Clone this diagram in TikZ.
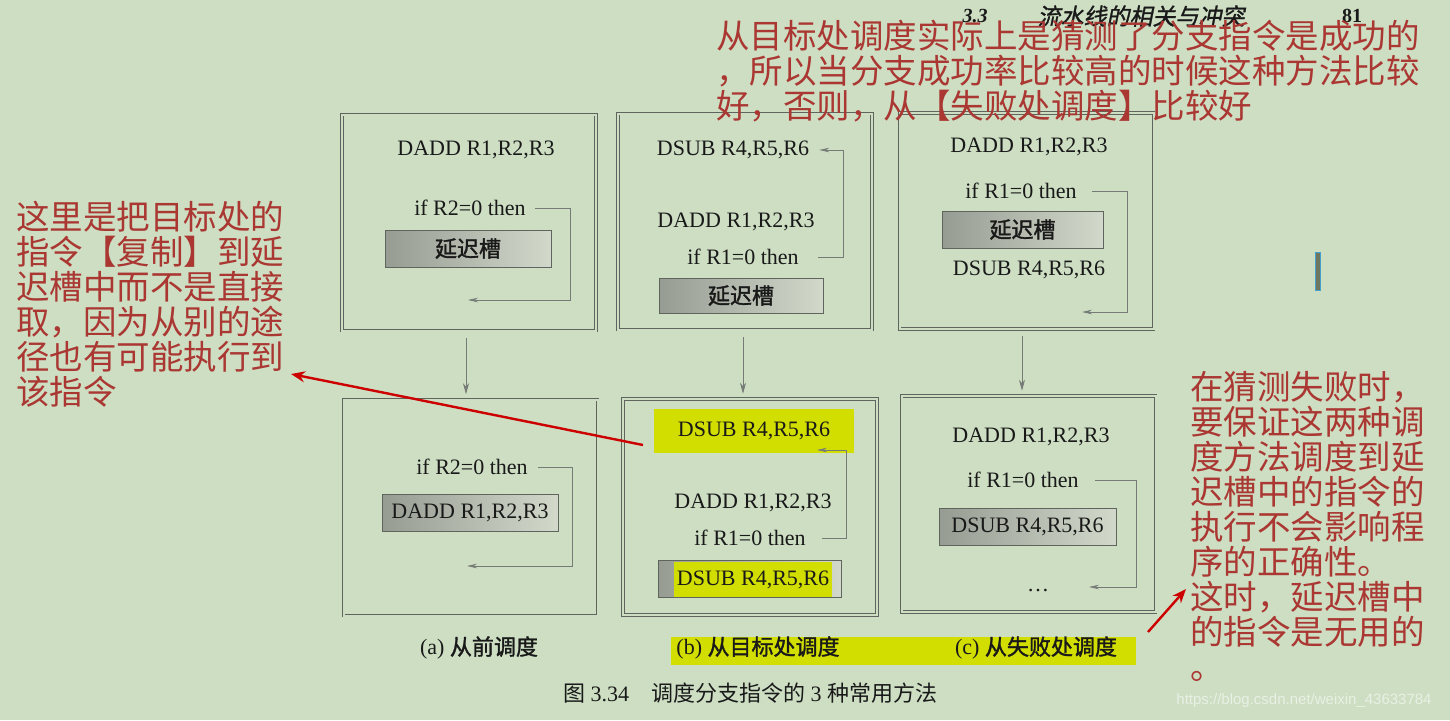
\documentclass[tikz,border=0pt]{standalone}
\usepackage{fontspec}
\setmainfont{Liberation Serif}
\newfontfamily\cjk{Noto Sans CJK SC}
\newfontfamily\cjkbf{Noto Sans CJK SC}[FakeBold=1.5]
\newfontfamily\cjksl{Noto Sans CJK SC}[FakeSlant=0.2,FakeBold=1.2]
\newfontfamily\urlfont{Liberation Sans}
\usepackage{tikz}
\usetikzlibrary{arrows.meta}
\usepackage{xcolor}
\definecolor{paper}{RGB}{205,222,195}
\definecolor{ink}{RGB}{25,25,25}
\definecolor{rule}{RGB}{95,100,95}
\definecolor{slotdark}{RGB}{150,156,146}
\definecolor{slotlight}{RGB}{210,216,202}
\definecolor{marker}{RGB}{210,222,0}
\definecolor{notered}{RGB}{170,55,50}
\definecolor{arrowred}{RGB}{205,0,0}
\definecolor{cursorblue}{RGB}{70,160,205}
\definecolor{cursorfill}{RGB}{110,118,95}

\begin{document}
\begin{tikzpicture}[
  x=1pt, y=-1pt,
  frame/.style={draw=rule, line width=0.6pt, double=paper, double distance=2pt,
                minimum width=254pt, minimum height=216pt},
  instr/.style={font={\fontsize{22}{24}\selectfont}, text=ink, inner sep=0pt},
  slot/.style={draw=rule, line width=0.6pt, left color=slotdark, right color=slotlight,
               minimum height=37pt, inner sep=0pt, text=ink, font={\fontsize{22}{24}\selectfont}},
  hl/.style={fill=marker, inner sep=0pt, text=ink, font={\fontsize{22}{24}\selectfont}},
  jump/.style={draw=rule!85, line width=0.7pt, -{Stealth[length=10pt,width=4.5pt]}},
  flow/.style={draw=rule!85, line width=0.7pt, -{Stealth[length=11pt,width=6pt]},
               shorten <=7pt, shorten >=5pt},
  note/.style={text=notered, align=left, inner sep=0pt, font={\cjk\fontsize{33.5}{35}\selectfont}},
  redarr/.style={draw=arrowred, line width=2.4pt, -{Stealth[length=14pt,width=11pt]}},
  caption/.style={font={\fontsize{22}{24}\selectfont}, text=ink, inner sep=0pt}
]
  \useasboundingbox (0,0) rectangle (1450,720);
  \fill[paper] (0,0) rectangle (1450,720);

  \node[frame] (a1) at (469,222.5) {};
  \node[frame] (b1) at (745,221.5) {};
  \node[frame] (c1) at (1026.5,221) {};
  \node[frame] (a2) at (470.5,507.5) {};
  \node[frame] (b2) at (750,507) {};
  \node[frame] (c2) at (1028.5,504) {};

  \node[instr] (a1add) at (476,150) {DADD R1,R2,R3};
  \node[instr] (a1if) at (470,208) {if R2=0 then};
  \node[slot, minimum width=166pt] (a1slot) at (468,248.5) {\cjkbf 延迟槽};
  \coordinate (a1back) at (468,300);
  \draw[jump] ([xshift=9pt]a1if.east) -- ++(35,0) |- (a1back);

  \node[instr] (b1sub) at (733,150) {DSUB R4,R5,R6};
  \node[instr] (b1add) at (736,222) {DADD R1,R2,R3};
  \node[instr] (b1if) at (743,257) {if R1=0 then};
  \node[slot, minimum width=164pt, minimum height=35pt] (b1slot) at (741,295.5) {\cjkbf 延迟槽};
  \draw[jump] ([xshift=19pt]b1if.east) -- ++(25,0) |- ([xshift=10pt]b1sub.east);

  \node[instr] (c1add) at (1029,147) {DADD R1,R2,R3};
  \node[instr] (c1if) at (1021,191) {if R1=0 then};
  \node[slot, minimum width=161pt] (c1slot) at (1022.5,229.5) {\cjkbf 延迟槽};
  \node[instr] (c1sub) at (1029,270) {DSUB R4,R5,R6};
  \coordinate (c1back) at (1082,312);
  \draw[jump] ([xshift=15pt]c1if.east) -- ++(35,0) |- (c1back);

  \node[instr] (a2if) at (472,467) {if R2=0 then};
  \node[slot, minimum width=176pt] (a2slot) at (470,512.5) {DADD R1,R2,R3};
  \coordinate (a2back) at (467,566);
  \draw[jump] ([xshift=10pt]a2if.east) -- ++(34,0) |- (a2back);

  \node[hl, minimum width=200pt, minimum height=44pt] (b2hl) at (754,431) {DSUB R4,R5,R6};
  \node[instr] (b2add) at (753,503) {DADD R1,R2,R3};
  \node[instr] (b2if) at (750,538) {if R1=0 then};
  \node[slot, minimum width=183pt] (b2slot) at (749.5,578.5) {};
  \node[hl, minimum width=158pt, minimum height=35pt] (b2mark) at (753,579.5) {DSUB R4,R5,R6};
  \coordinate (b2back) at (817,450);
  \draw[jump] ([xshift=16pt]b2if.east) -- ++(24,0) |- (b2back);

  \node[instr] (c2add) at (1031,437) {DADD R1,R2,R3};
  \node[instr] (c2if) at (1023,480) {if R1=0 then};
  \node[slot, minimum width=177pt] (c2slot) at (1027.5,526.5) {DSUB R4,R5,R6};
  \node[instr] (c2dots) at (1038,591) {\dots};
  \coordinate (c2back) at (1089,587);
  \draw[jump] ([xshift=16pt]c2if.east) -- ++(41,0) |- (c2back);

  \draw[flow] ([xshift=-3pt]a1.south) -- ([xshift=-3pt]a1.south |- a2.north);
  \draw[flow] ([xshift=-2pt]b1.south) -- ([xshift=-2pt]b1.south |- b2.north);
  \draw[flow] ([xshift=-4.5pt]c1.south) -- ([xshift=-4.5pt]c1.south |- c2.north);

  \node[hl, minimum width=465pt, minimum height=28pt] (caphl) at (903.5,651) {};
  \node[caption] (capa) at (479,648) {(a) {\cjkbf 从前调度}};
  \node[caption] (capb) at (758,648) {(b) {\cjkbf 从目标处调度}};
  \node[caption] (capc) at (1036,648) {(c) {\cjkbf 从失败处调度}};
  \node[caption] (figcap) at (750,693) {{\cjk 图}\ 3.34\quad{\cjk 调度分支指令的}\ 3\ {\cjk 种常用方法}};

  \node[font={\fontsize{20}{22}\selectfont\itshape\bfseries}, text=ink, inner sep=0pt] (hdnum) at (975,16) {3.3};
  \node[font={\cjksl\fontsize{23}{25}\selectfont}, text=ink, inner sep=0pt] (hdtitle) at (1141,16) {流水线的相关与冲突};
  \node[font={\fontsize{20}{22}\selectfont\bfseries}, text=ink, inner sep=0pt] (hdpage) at (1352,16) {81};

  \node[note, anchor=west] (topnote) at (716,71)
    {从目标处调度实际上是猜测了分支指令是成功的\\，所以当分支成功率比较高的时候这种方法比较\\好，否则，从【失败处调度】比较好};
  \node[note, anchor=west] (leftnote) at (16,304.5)
    {这里是把目标处的\\指令【复制】到延\\迟槽中而不是直接\\取，因为从别的途\\径也有可能执行到\\该指令};
  \node[note, anchor=west] (rightnote) at (1190,526.5)
    {在猜测失败时，\\要保证这两种调\\度方法调度到延\\迟槽中的指令的\\执行不会影响程\\序的正确性。\\这时，延迟槽中\\的指令是无用的\\。};

  \coordinate (copytail) at (643,445);
  \coordinate (copytip) at (291,374);
  \draw[redarr] (copytail) -- (copytip);
  \coordinate (failtail) at (1148,632);
  \coordinate (failtip) at (1186,589);
  \draw[redarr] (failtail) -- (failtip);

  \node[draw=cursorblue, fill=cursorfill, line width=1pt, minimum width=5pt, minimum height=38pt,
        inner sep=0pt] (cursor) at (1318,271.5) {};
  \node[font={\urlfont\fontsize{15}{17}\selectfont}, text=white!55!paper, inner sep=0pt] (wmark)
    at (1304,701) {https://blog.csdn.net/weixin\_43633784};
\end{tikzpicture}
\end{document}
